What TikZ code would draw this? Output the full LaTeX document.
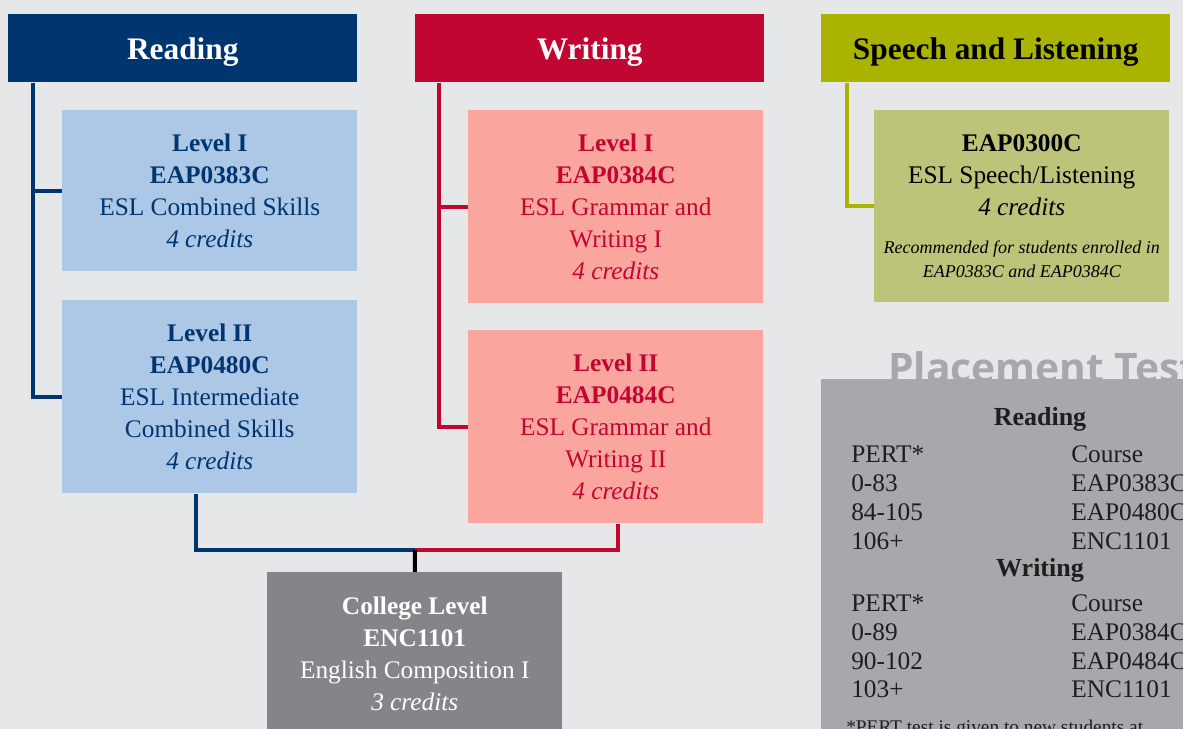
\documentclass[tikz,border=0pt]{standalone}
\usepackage{fontspec}
\setmainfont{Liberation Serif}
\newfontfamily\titlefont{Open Sans}
\usepackage{tikz}
\usetikzlibrary{positioning}
\definecolor{pagebg}{HTML}{E6E7E9}
\definecolor{navy}{HTML}{003570}
\definecolor{skyfill}{HTML}{ADC8E6}
\definecolor{crimson}{HTML}{C20632}
\definecolor{salmon}{HTML}{FAA59E}
\definecolor{olive}{HTML}{A9B300}
\definecolor{olivefill}{HTML}{BCC479}
\definecolor{collegegray}{HTML}{848588}
\definecolor{placegray}{HTML}{A7A8AB}
\definecolor{inkgray}{HTML}{1E1E1E}
\tikzset{
headbox/.style={anchor=north west, minimum width=261.75pt, minimum height=51pt, inner sep=0pt, text depth=0pt, font=\fontsize{23.5}{26}\selectfont\bfseries}, % band over each column
coursebox/.style={anchor=north west, minimum width=221.25pt, align=center, inner sep=0pt, font=\fontsize{19}{24}\selectfont}, % one course
rdline/.style={draw=navy, line width=3pt},
wrline/.style={draw=crimson, line width=3pt},
spline/.style={draw=olive, line width=3pt},
ptext/.style={text=inkgray, inner sep=0pt, font=\fontsize{19}{22}\selectfont},
}
\newcommand\notefont{\fontsize{13.5}{18.75}\selectfont\itshape}

\begin{document}
\begin{tikzpicture}[x=0.75pt,y=-0.75pt]%pixel grid of the sheet
  \useasboundingbox (0,0) rectangle (1183,729);
  \clip (0,0) rectangle (1183,729);
  \fill[pagebg] (0,0) rectangle (1183,729);

  % column heads
  \node[headbox, fill=navy, text=white] (readhead) at (8,14) {Reading};
  \node[headbox, fill=crimson, text=white] (writehead) at (415,14) {Writing};
  \node[headbox, fill=olive, text=black] (speechhead) at (821,14) {Speech and Listening};

  % courses
  \node[coursebox, fill=skyfill, text=navy, minimum height=120.75pt] (read1) at (62,110)
    {\textbf{Level I}\\\textbf{EAP0383C}\\ESL Combined Skills\\\textit{4 credits}};
  \node[coursebox, fill=skyfill, text=navy, minimum height=144.75pt] (read2) at (62,300)
    {\textbf{Level II}\\\textbf{EAP0480C}\\ESL Intermediate\\Combined Skills\\\textit{4 credits}};
  \node[coursebox, fill=salmon, text=crimson, minimum height=144.75pt] (write1) at (468,110)
    {\textbf{Level I}\\\textbf{EAP0384C}\\ESL Grammar and\\Writing I\\\textit{4 credits}};
  \node[coursebox, fill=salmon, text=crimson, minimum height=144.75pt] (write2) at (468,330)
    {\textbf{Level II}\\\textbf{EAP0484C}\\ESL Grammar and\\Writing II\\\textit{4 credits}};
  \node[coursebox, fill=olivefill, text=black, minimum height=144pt] (speech) at (874,110)
    {\textbf{EAP0300C}\\ESL Speech/Listening\\\textit{4 credits}\\[5pt]
     {\notefont Recommended for students enrolled in}\\[-6pt]{\notefont EAP0383C and EAP0384C}};
  \node[coursebox, fill=collegegray, text=white, minimum height=123pt] (college) at (267,572)
    {\textbf{College Level}\\\textbf{ENC1101}\\English Composition I\\\textit{3 credits}};

  % connectors
  \draw[rdline] ([xshift=18.75pt]readhead.south west) |- (read1.west);
  \draw[rdline] ([xshift=18.75pt]readhead.south west) |- (read2.west);
  \draw[wrline] ([xshift=18pt]writehead.south west) |- (write1.west);
  \draw[wrline] ([xshift=18pt]writehead.south west) |- (write2.west);
  \draw[spline] ([xshift=19.5pt]speechhead.south west) |- (speech.west);
  \coordinate (join) at (415,550);
  \draw[rdline] ([xshift=-10.1pt]read2.south) |- (join);
  \draw[wrline] ([xshift=1.5pt]write2.south) |- (join);
  \draw[line width=3pt] (join) -- (college.north);

  % placement test
  \node[anchor=base west, inner sep=0pt, text=placegray, font=\titlefont\bfseries\fontsize{30.5}{32}\selectfont] (ptitle) at (888,382) {Placement Test};
  \node[anchor=north west, fill=placegray, minimum width=300pt, minimum height=300pt] (placebox) at (821,379) {};
  \node[ptext, font=\fontsize{19.5}{22}\selectfont\bfseries] (preadhead) at (1040,419) {Reading};
  \foreach \a/\b [count=\i] in {PERT*/Course, 0-83/EAP0383C, 84-105/EAP0480C, 106+/ENC1101}{
    \node[ptext, anchor=base west] (pra\i) at (851,433+29*\i) {\a};
    \node[ptext, anchor=base west] (prb\i) at (1071,433+29*\i) {\b};
  }
  \node[ptext, font=\fontsize{19.5}{22}\selectfont\bfseries] (pwritehead) at (1040,570) {Writing};
  \foreach \a/\b [count=\i] in {PERT*/Course, 0-89/EAP0384C, 90-102/EAP0484C, 103+/ENC1101}{
    \node[ptext, anchor=base west] (pwa\i) at (851,583+28.7*\i) {\a};
    \node[ptext, anchor=base west] (pwb\i) at (1071,583+28.7*\i) {\b};
  }
  \node[ptext, anchor=base west, font=\fontsize{14.5}{16}\selectfont] (pnote) at (846,733) {*PERT test is given to new students at};
\end{tikzpicture}
\end{document}
